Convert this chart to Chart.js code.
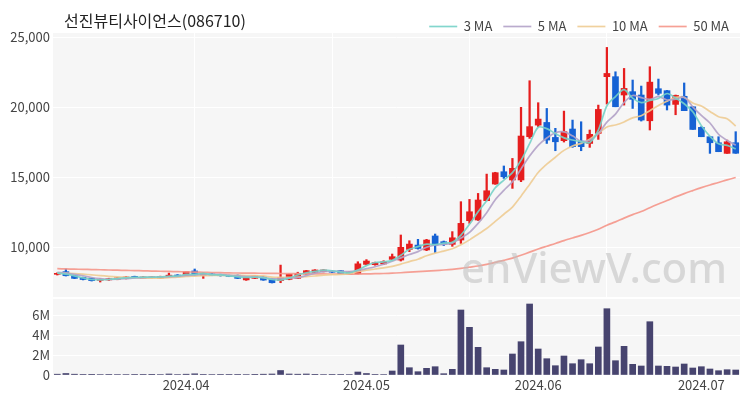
<!DOCTYPE html>
<html>
<head>
<meta charset="utf-8">
<script src="https://cdn.jsdelivr.net/npm/chart.js@4.4.1/dist/chart.umd.min.js"></script>
<style>
  body { margin: 0; background: #fff; }
  #wrap { position: relative; width: 750px; height: 400px; overflow: hidden; }
  #title { position: absolute; left: 64px; top: 8px; font: 16px 'Noto Sans CJK KR', sans-serif; color: #222; }
  #mark { position: absolute; left: 461px; top: 238px; font: 500 42px 'Noto Sans', sans-serif; color: rgba(190,190,190,0.55); pointer-events: none; }
  #price { position: absolute; left: 0; top: 0; }
  #volume { position: absolute; left: 0; top: 297px; }
</style>
</head>
<body>
<div id="wrap">
  <canvas id="price" width="750" height="297"></canvas>
  <canvas id="volume" width="750" height="103"></canvas>
  <div id="title">선진뷰티사이언스(086710)</div>
  <div id="mark">enViewV.com</div>
</div>
<script>
var dates = [
  '2024-03-11','2024-03-12','2024-03-13','2024-03-14','2024-03-15','2024-03-18','2024-03-19','2024-03-20','2024-03-21','2024-03-22',
  '2024-03-25','2024-03-26','2024-03-27','2024-03-28','2024-03-29','2024-04-01','2024-04-02','2024-04-03','2024-04-04','2024-04-05',
  '2024-04-08','2024-04-09','2024-04-11','2024-04-12','2024-04-15','2024-04-16','2024-04-17','2024-04-18','2024-04-19','2024-04-22',
  '2024-04-23','2024-04-24','2024-04-25','2024-04-26','2024-04-29','2024-04-30','2024-05-02','2024-05-03','2024-05-07','2024-05-08',
  '2024-05-09','2024-05-10','2024-05-13','2024-05-14','2024-05-16','2024-05-17','2024-05-20','2024-05-21','2024-05-22','2024-05-23',
  '2024-05-24','2024-05-27','2024-05-28','2024-05-29','2024-05-30','2024-05-31','2024-06-03','2024-06-04','2024-06-05','2024-06-07',
  '2024-06-10','2024-06-11','2024-06-12','2024-06-13','2024-06-14','2024-06-17','2024-06-18','2024-06-19','2024-06-20','2024-06-21',
  '2024-06-24','2024-06-25','2024-06-26','2024-06-27','2024-06-28','2024-07-01','2024-07-02','2024-07-03','2024-07-04','2024-07-05'
];

var opens = [
  8050, 8240, 7950, 7830, 7760, 7620, 7650, 7690, 7740, 7900,
  7760, 7800, 7770, 7850, 8000, 7980, 8290, 7960, 8080, 8030,
  7960, 7990, 7650, 7760, 7880, 7710, 7600, 7690, 7760, 8070,
  8190, 8240, 8280, 8310, 8070, 8100, 8760, 8740, 8790, 9120,
  9070, 9830, 10140, 9790, 10790, 10380, 10190, 10500, 11880, 11930,
  13310, 14500, 15380, 14790, 14790, 17880, 18710, 18900, 17830, 17600,
  18430, 17570, 17400, 18120, 22170, 22170, 20860, 21100, 20860, 19020,
  21310, 21170, 20190, 20770, 20020, 18550, 17880, 17450, 16690, 17450
];
var highs = [
  8160, 8430, 7980, 7850, 7790, 7740, 7770, 7820, 7880, 7920,
  7880, 7870, 7920, 8140, 8030, 8260, 8430, 8160, 8110, 8060,
  7990, 8010, 7850, 7980, 7910, 7730, 8710, 8080, 8200, 8330,
  8380, 8380, 8300, 8330, 8240, 8950, 9100, 8920, 9020, 9500,
  10860, 10450, 10550, 10550, 10930, 10430, 11100, 13240, 13400, 13830,
  15210, 15340, 15790, 16330, 19980, 21880, 20310, 19900, 18480, 19710,
  19070, 18950, 18360, 20140, 24260, 22520, 22760, 21930, 21500, 22880,
  22000, 21190, 20860, 21720, 20050, 18600, 17900, 17880, 17640, 18240
];
var lows = [
  8000, 7930, 7740, 7650, 7570, 7500, 7620, 7660, 7720, 7800,
  7740, 7780, 7750, 7830, 7880, 7960, 7980, 7760, 7950, 7920,
  7880, 7740, 7620, 7740, 7620, 7430, 7450, 7660, 7740, 8050,
  8170, 8220, 8180, 8050, 8050, 8080, 8720, 8700, 8760, 9080,
  9000, 9670, 9850, 9740, 9600, 10100, 10050, 10260, 11690, 11900,
  13300, 14480, 14900, 14190, 14670, 17760, 18600, 17400, 16880, 17500,
  17120, 16880, 17120, 17690, 20210, 20020, 20140, 19900, 19000, 18360,
  20860, 19790, 19450, 19740, 18400, 17880, 16690, 16810, 16690, 16690
];
var closes = [
  8120, 7950, 7760, 7680, 7600, 7700, 7740, 7800, 7860, 7830,
  7860, 7850, 7900, 7990, 7900, 8240, 8000, 8100, 7980, 7950,
  7900, 7760, 7830, 7950, 7640, 7450, 7830, 8050, 8120, 8310,
  8360, 8360, 8200, 8070, 8210, 8800, 9000, 8880, 8950, 9310,
  9980, 10210, 9900, 10500, 10140, 10210, 10660, 11690, 12520, 13360,
  14020, 15310, 15020, 15620, 17930, 18600, 19140, 17640, 17520, 18240,
  17170, 17170, 18050, 19830, 22400, 20020, 21330, 20550, 19070, 21780,
  20980, 20140, 20830, 19740, 18400, 17880, 17450, 16810, 17520, 16700
];
var volumes = [
  80000, 150000, 80000, 60000, 70000, 50000, 40000, 50000, 50000, 40000,
  40000, 30000, 50000, 100000, 50000, 80000, 120000, 60000, 50000, 40000,
  40000, 60000, 50000, 70000, 80000, 100000, 450000, 100000, 80000, 100000,
  70000, 50000, 40000, 60000, 50000, 300000, 150000, 60000, 50000, 400000,
  3000000, 730000, 330000, 670000, 830000, 130000, 570000, 6500000, 4770000, 2770000,
  730000, 570000, 500000, 2100000, 3330000, 7100000, 2600000, 1630000, 930000, 1900000,
  1130000, 1530000, 1130000, 2800000, 6630000, 1430000, 2870000, 1070000, 900000, 5330000,
  900000, 870000, 800000, 1100000, 700000, 830000, 600000, 430000, 530000, 500000
];

var ma3 = [
  8150, 8060, 7943, 7797, 7680, 7660, 7680, 7747, 7800, 7830,
  7850, 7847, 7870, 7913, 7930, 8043, 8047, 8113, 8027, 8010,
  7943, 7870, 7830, 7847, 7807, 7680, 7640, 7777, 8000, 8160,
  8263, 8343, 8307, 8210, 8160, 8360, 8670, 8893, 8943, 9047,
  9413, 9833, 10030, 10203, 10180, 10283, 10337, 10853, 11623, 12523,
  13300, 14230, 14783, 15317, 16190, 17383, 18557, 18460, 18100, 17800,
  17643, 17527, 17463, 18350, 20093, 20750, 21250, 20633, 20317, 20467,
  20610, 20967, 20650, 20237, 19657, 18673, 17910, 17380, 17260, 17010
];
var ma5 = [
  8200, 8130, 8050, 7950, 7822, 7738, 7696, 7704, 7740, 7786,
  7818, 7840, 7860, 7886, 7900, 7976, 8006, 8046, 8044, 8054,
  7986, 7938, 7884, 7878, 7816, 7726, 7740, 7784, 7818, 7952,
  8134, 8240, 8270, 8260, 8240, 8328, 8456, 8592, 8768, 8988,
  9224, 9466, 9670, 9980, 10146, 10192, 10282, 10640, 11044, 11688,
  12450, 13380, 14046, 14666, 15580, 16496, 17262, 17786, 18166, 18228,
  17942, 17548, 17630, 18092, 18924, 19494, 20326, 20826, 20674, 20550,
  20742, 20504, 20560, 20694, 20018, 19398, 18860, 18056, 17612, 17272
];
var ma10 = [
  8150, 8130, 8100, 8060, 8010, 7960, 7910, 7870, 7840, 7804,
  7778, 7768, 7782, 7813, 7843, 7897, 7923, 7953, 7965, 7977,
  7981, 7972, 7965, 7961, 7935, 7856, 7839, 7834, 7848, 7884,
  7930, 7990, 8027, 8039, 8096, 8231, 8348, 8431, 8514, 8614,
  8776, 8961, 9131, 9374, 9567, 9708, 9874, 10155, 10512, 10917,
  11321, 11831, 12343, 12855, 13634, 14473, 15321, 15916, 16416, 16904,
  17219, 17405, 17708, 18129, 18576, 18718, 18937, 19228, 19383, 19737,
  20118, 20415, 20693, 20684, 20284, 20074, 19686, 19311, 19156, 18648
];
var ma50 = [
  8450, 8435, 8420, 8405, 8390, 8375, 8360, 8345, 8330, 8315,
  8300, 8285, 8270, 8255, 8240, 8225, 8210, 8195, 8180, 8165,
  8150, 8143, 8136, 8129, 8122, 8115, 8108, 8101, 8094, 8088,
  8082, 8077, 8073, 8070, 8068, 8068, 8083, 8095, 8109, 8130,
  8164, 8203, 8236, 8281, 8318, 8357, 8405, 8473, 8558, 8645,
  8757, 8904, 9049, 9208, 9415, 9633, 9861, 10058, 10251, 10459,
  10645, 10831, 11034, 11271, 11561, 11797, 12064, 12313, 12535, 12812,
  13074, 13322, 13582, 13818, 14033, 14242, 14434, 14609, 14797, 14965
];

var priceTicks = [10000, 15000, 20000, 25000];
var volumeTicks = [0, 2000000, 4000000, 6000000];

var upColor = '#e61e1e';
var downColor = '#1662d4';
var candleColors = closes.map(function(c, i) { return c >= opens[i] ? upColor : downColor; });
var bodies = opens.map(function(o, i) { return [o, closes[i]]; });
var wicks = lows.map(function(l, i) { return [l, highs[i]]; });

Chart.defaults.font.family = "'Noto Sans CJK KR', 'Noto Sans', sans-serif";
Chart.defaults.font.size = 13;
Chart.defaults.color = '#444';

var panelBg = {
  id: 'panelBg',
  beforeDraw: function(chart) {
    var a = chart.chartArea, ctx = chart.ctx;
    ctx.save();
    ctx.fillStyle = '#f6f6f6';
    ctx.fillRect(a.left, a.top, a.right - a.left, a.bottom - a.top);
    ctx.restore();
  }
};

// keep the legend row from pushing the plot down
var legendHeight = {
  id: 'legendHeight',
  afterInit: function(chart) {
    var legend = chart.legend, fit = legend.fit;
    legend.fit = function() { fit.call(this); this.height = 24; };
  }
};

// y axes: fixed width, no extra room for the end labels
function fixAxis(s) {
  s.width = 53;
  s.paddingTop = 0;
  s.paddingBottom = 0;
}

function maLine(label, data, color) {
  return {
    type: 'line', label: label, data: data,
    borderColor: color, backgroundColor: color,
    borderWidth: 1.7, pointRadius: 0, tension: 0.3, order: 0
  };
}

new Chart(document.getElementById('price'), {
  data: {
    labels: dates,
    datasets: [
      maLine('3 MA', ma3, 'rgba(118,210,200,0.9)'),
      maLine('5 MA', ma5, 'rgba(178,162,200,0.9)'),
      maLine('10 MA', ma10, 'rgba(238,204,148,0.9)'),
      maLine('50 MA', ma50, 'rgba(245,150,138,0.9)'),
      { type: 'bar', label: 'body', data: bodies, backgroundColor: candleColors,
        barThickness: 6, grouped: false, minBarLength: 1, order: 1 },
      { type: 'bar', label: 'wick', data: wicks, backgroundColor: candleColors,
        barThickness: 1.6, grouped: false, order: 2 }
    ]
  },
  options: {
    responsive: false,
    animation: false,
    layout: { padding: { left: 0, right: 10, top: 9, bottom: 0 } },
    plugins: {
      tooltip: { enabled: false },
      legend: {
        position: 'top', align: 'end',
        labels: {
          filter: function(item) { return item.datasetIndex < 4; },
          usePointStyle: true, pointStyle: 'line', pointStyleWidth: 28,
          padding: 11, color: '#444', font: { size: 13 }
        }
      }
    },
    scales: {
      x: {
        offset: true,
        grid: {
          offset: false, drawTicks: false,
          color: function(ctx) { return ctx.index > 0 && ctx.index % 16 === 0 ? '#ffffff' : 'rgba(0,0,0,0)'; }
        },
        ticks: { display: false, autoSkip: false },
        border: { display: false },
        afterFit: function(s) { s.height = 0; }
      },
      y: {
        min: 6430, max: 25290,
        afterBuildTicks: function(s) { s.ticks = priceTicks.map(function(v) { return { value: v }; }); },
        afterFit: fixAxis,
        ticks: { padding: 3, callback: function(v) { return v.toLocaleString('en-US'); } },
        grid: { color: '#ffffff', drawTicks: false },
        border: { display: false }
      }
    }
  },
  plugins: [panelBg, legendHeight]
});

new Chart(document.getElementById('volume'), {
  type: 'bar',
  data: {
    labels: dates,
    datasets: [{ label: 'Volume', data: volumes, backgroundColor: '#47446f', barThickness: 6 }]
  },
  options: {
    responsive: false,
    animation: false,
    layout: { padding: { left: 0, right: 10, top: 2, bottom: 0 } },
    plugins: { legend: { display: false }, tooltip: { enabled: false } },
    scales: {
      x: {
        offset: true,
        grid: { display: false, drawTicks: false },
        border: { display: false },
        ticks: {
          autoSkip: false, maxRotation: 0, padding: 2,
          callback: function(v, i) {
            if (i === 0 || dates[i].slice(0, 7) === dates[i - 1].slice(0, 7)) return '';
            return dates[i].slice(0, 7).replace('-', '.');
          }
        },
        afterFit: function(s) { s.height = 25; }
      },
      y: {
        min: 0, max: 7600000,
        afterBuildTicks: function(s) { s.ticks = volumeTicks.map(function(v) { return { value: v }; }); },
        afterFit: fixAxis,
        ticks: { padding: 3, callback: function(v) { return v === 0 ? '0' : (v / 1000000) + 'M'; } },
        grid: { color: '#ffffff', drawTicks: false },
        border: { display: false }
      }
    }
  },
  plugins: [panelBg]
});
</script>
</body>
</html>
